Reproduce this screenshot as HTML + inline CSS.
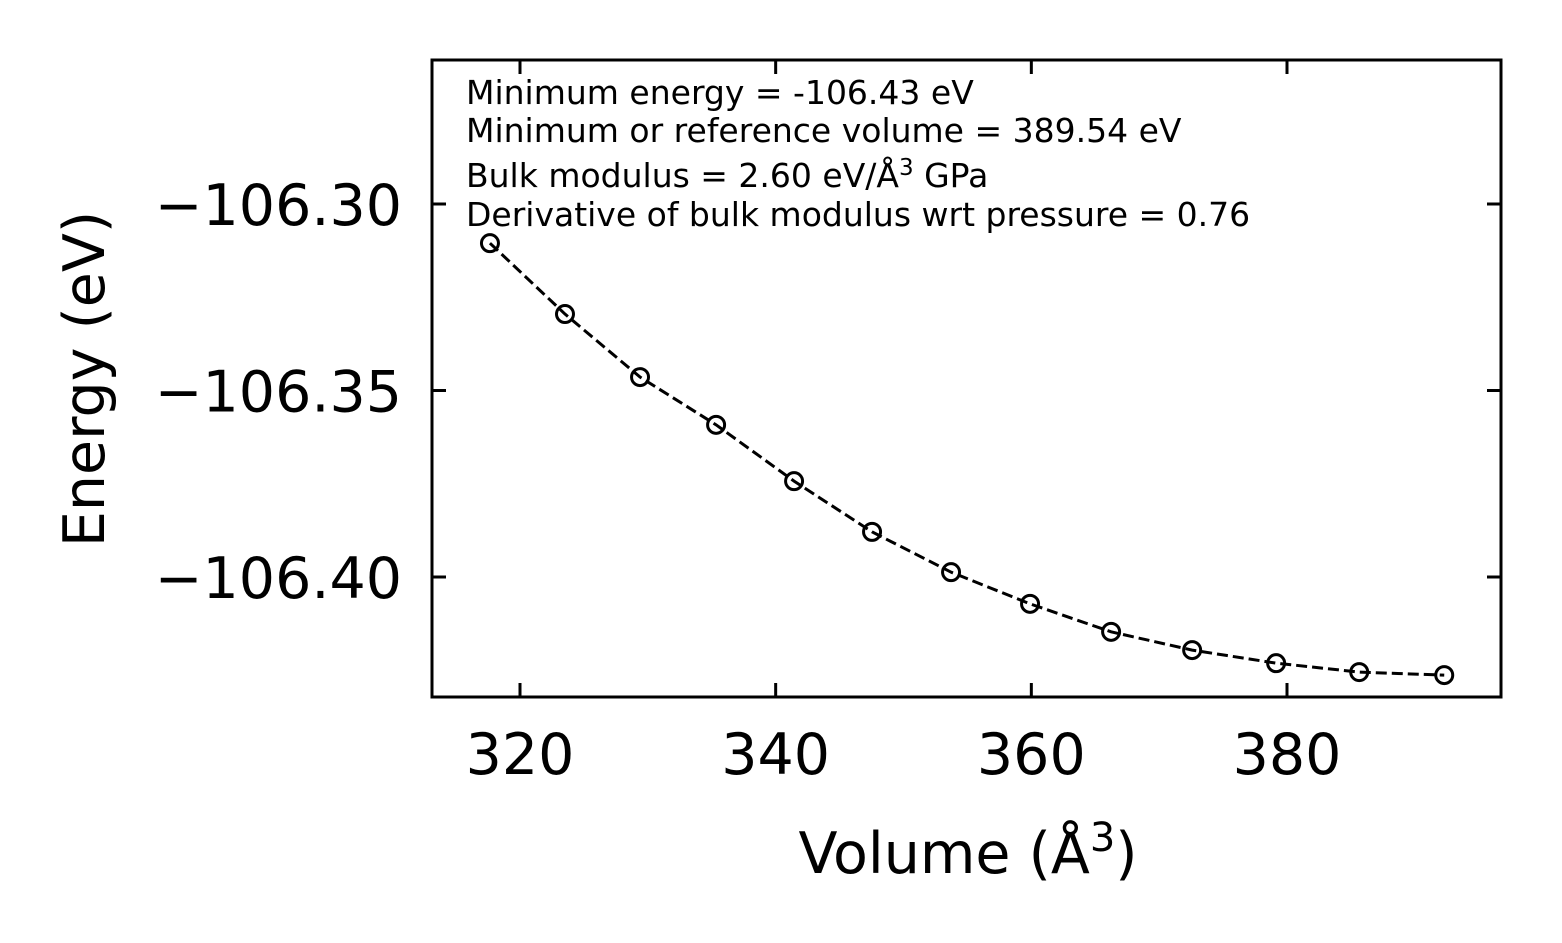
<!DOCTYPE html>
<html><head><meta charset="utf-8"><style>
html,body{margin:0;padding:0;background:#fff;}
svg{display:block;font-family:"DejaVu Sans","Liberation Sans",sans-serif;}
</style></head><body>
<svg id="chart" width="1562" height="943" viewBox="0 0 1562 943">
<rect x="0" y="0" width="1562" height="943" fill="#fff"/>
<g id="plot"></g>
<text x="968" y="873" font-size="57" text-anchor="middle">Volume (Å<tspan dy="-22" font-size="40">3</tspan><tspan dy="22">)</tspan></text>
<text x="466" y="104" font-size="33">Minimum energy = -106.43 eV</text>
<text x="466" y="142" font-size="33">Minimum or reference volume = 389.54 eV</text>
<text x="466" y="187" font-size="33">Bulk modulus = 2.60 eV/Å<tspan dy="-12" font-size="23">3</tspan><tspan dy="12"> GPa</tspan></text>
<text x="466" y="226" font-size="33">Derivative of bulk modulus wrt pressure = 0.76</text>
</svg>
<script>
const volumes=[317.65,323.52,329.39,335.34,341.44,347.54,353.72,359.9,366.24,372.58,379.15,385.65,392.3];
const energies=[-106.3105,-106.3295,-106.3464,-106.3592,-106.3743,-106.3879,-106.3987,-106.4072,-106.4147,-106.4196,-106.4231,-106.4255,-106.4263];
const xTicks=[320,340,360,380];
const yTicks=[-106.30,-106.35,-106.40];
const yTickLabels=["\u2212106.30","\u2212106.35","\u2212106.40"];
const xTickLabels=["320","340","360","380"];

const L=432,R=1501,T=60,B=697;
const xs=v=>520+(v-320)*(1287-520)/60;
const ys=e=>204+(-106.30-e)*(577-204)/0.10;
const NS="http://www.w3.org/2000/svg";
const g=document.getElementById('plot');
function mk(tag,attrs){const el=document.createElementNS(NS,tag);for(const k in attrs)el.setAttribute(k,attrs[k]);g.appendChild(el);return el;}

const line=mk('polyline',{points:volumes.map((v,i)=>xs(v)+','+ys(energies[i])).join(' '),fill:'none',stroke:'#000','stroke-width':3,'stroke-dasharray':'11,5'});


volumes.forEach((v,i)=>{
  const c=mk('circle',{cx:xs(v),cy:ys(energies[i]),r:8.5,fill:'none',stroke:'#000','stroke-width':3});
  
  
});
const fr=mk('rect',{x:L,y:T,width:R-L,height:B-T,fill:'none',stroke:'#000','stroke-width':3});


xTicks.forEach((t,i)=>{
  const x=xs(t);
  mk('line',{x1:x,y1:B,x2:x,y2:B-14,stroke:'#000','stroke-width':3});
  mk('line',{x1:x,y1:T,x2:x,y2:T+14,stroke:'#000','stroke-width':3});
  const tx=mk('text',{x:x,y:B+77,'font-size':57,'text-anchor':'middle'});
  tx.textContent=xTickLabels[i];
  
  
});
yTicks.forEach((t,i)=>{
  const y=ys(t);
  mk('line',{x1:L,y1:y,x2:L+14,y2:y,stroke:'#000','stroke-width':3});
  mk('line',{x1:R,y1:y,x2:R-14,y2:y,stroke:'#000','stroke-width':3});
  const tx=mk('text',{x:402,y:y+21,'font-size':57,'text-anchor':'end'});
  tx.textContent=yTickLabels[i];
  
  
});
const yl=mk('text',{x:0,y:0,'font-size':57,'text-anchor':'middle',transform:'translate(104,379) rotate(-90)'});
yl.textContent='Energy (eV)';


</script>
</body></html>
